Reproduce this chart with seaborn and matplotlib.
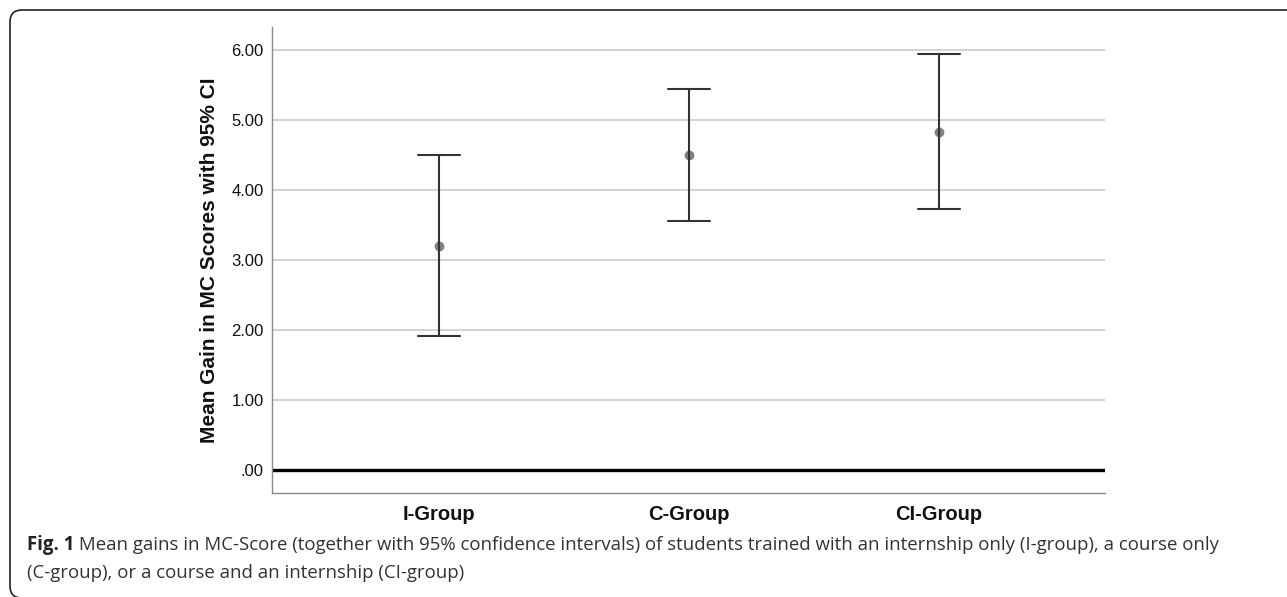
import numpy as np
import pandas as pd
import matplotlib
matplotlib.use("Agg")
import matplotlib.pyplot as plt
from matplotlib.path import Path
from matplotlib.patches import PathPatch
from matplotlib.ticker import FuncFormatter
import seaborn as sns

# values
groups = ["I-Group", "C-Group", "CI-Group"]
means = [3.20, 4.50, 4.83]
ci_low = [1.91, 3.56, 3.73]
ci_high = [4.50, 5.44, 5.95]
y_ticks = [0, 1, 2, 3, 4, 5, 6]

caption_bold = "Fig. 1"
caption_rest = (" Mean gains in MC-Score (together with 95% confidence intervals) of students "
                "trained with an internship only (I-group), a course only")
caption_line2 = "(C-group), or a course and an internship (CI-group)"

# long form: lower / mean / upper per group -> median = mean, min/max = CI
rows = []
for g, lo, m, hi in zip(groups, ci_low, means, ci_high):
    for v in (lo, m, hi):
        rows.append({"group": g, "gain": v})
df = pd.DataFrame(rows)

sns.set_theme(style="white")
plt.rcParams["font.family"] = ["Liberation Sans", "DejaVu Sans"]

W, H = 1287, 597
fig = plt.figure(figsize=(W / 100, H / 100), dpi=100)
ax = fig.add_axes([272 / W, 104 / H, 833 / W, 466 / H])

for y in y_ticks:
    if y == 0:
        continue
    ax.axhline(y, color="#d2d2d2", lw=1.4, zorder=0)
ax.axhline(0, color="black", lw=2.4, zorder=1)

sns.pointplot(data=df, x="group", y="gain", order=groups,
              estimator="median", errorbar=lambda v: (np.min(v), np.max(v)),
              linestyle="none", color="#808080", markersize=5,
              capsize=0.17, err_kws={"color": "#333333", "linewidth": 1.5},
              ax=ax)

ax.set_xlim(-0.668, 2.664)
ax.set_ylim(-0.33, 6.33)
ax.set_yticks(y_ticks)
ax.yaxis.set_major_formatter(FuncFormatter(lambda v, p: f"{v:.2f}".lstrip("0") if v < 1 else f"{v:.2f}"))
ax.tick_params(axis="y", length=0, pad=6, labelsize=12, colors="#111111")
ax.tick_params(axis="x", length=0, pad=9, labelsize=14.5, colors="#111111")
for lbl in ax.get_xticklabels():
    lbl.set_fontweight("bold")
ax.set_xlabel("")
ax.set_ylabel("Mean Gain in MC Scores with 95% CI", fontsize=15,
              fontweight="bold", labelpad=9, color="#111111")

for side in ["top", "right"]:
    ax.spines[side].set_visible(False)
for side in ["left", "bottom"]:
    ax.spines[side].set_color("#8a8a8a")
    ax.spines[side].set_linewidth(1.0)

# frame: top edge and left edge with rounded corners (pixel coords)
r = 12
top, left, bot = H - 10, 10, -1
verts = [(W + 5, top), (left + r, top), (left, top), (left, top - r),
         (left, bot + r), (left, bot), (left + r, bot)]
codes = [Path.MOVETO, Path.LINETO, Path.CURVE3, Path.CURVE3,
         Path.LINETO, Path.CURVE3, Path.CURVE3]
fig.patches.append(PathPatch(Path(verts, codes), transform=None, fill=False,
                             edgecolor="#222222", lw=1.2))

cap_font = ["Open Sans", "DejaVu Sans"]
cap_size = 13.4
t = fig.text(27 / W, 1 - 545 / H, caption_bold, fontsize=cap_size, fontweight="bold",
             family=cap_font, color="#222222", va="center")
fig.canvas.draw()
bb = t.get_window_extent()
fig.text(bb.x1 / W, 1 - 545 / H, caption_rest, fontsize=cap_size,
         family=cap_font, color="#333333", va="center")
fig.text(27 / W, 1 - 573 / H, caption_line2, fontsize=cap_size,
         family=cap_font, color="#333333", va="center")

fig.savefig("out.png", dpi=100)
